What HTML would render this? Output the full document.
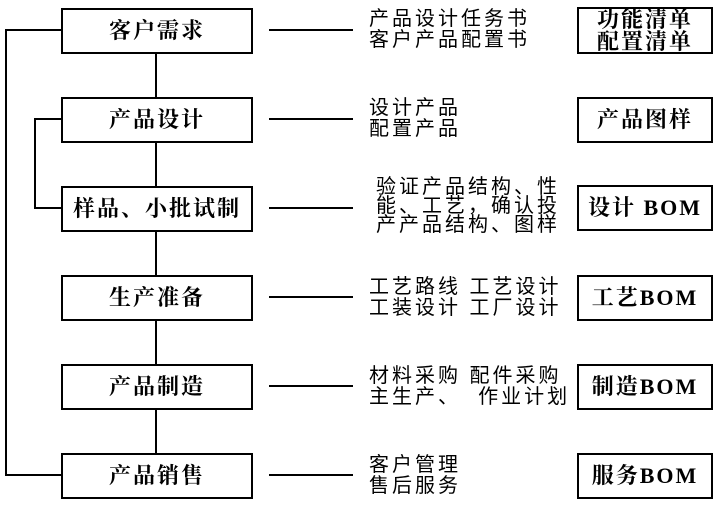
<!DOCTYPE html>
<html><head><meta charset="utf-8"><style>
body{margin:0;width:716px;height:505px;background:#fff;position:relative;overflow:hidden;font-family:"Liberation Serif","Noto Serif CJK SC",serif}
.b{position:absolute;border:2px solid #000;box-sizing:border-box;display:flex;align-items:center;justify-content:center;font-weight:bold;font-size:22px;letter-spacing:2px;line-height:22px;text-align:center}
.l{position:absolute;background:#000}
.t{position:absolute;font-family:"Liberation Sans","Noto Sans CJK SC",sans-serif;font-size:20px;letter-spacing:3px;line-height:21px;white-space:pre}
</style></head><body>
<div class="l" style="left:5px;top:29px;width:2px;height:447px"></div>
<div class="l" style="left:5px;top:29px;width:57px;height:2px"></div>
<div class="l" style="left:5px;top:474px;width:57px;height:2px"></div>
<div class="l" style="left:34px;top:118px;width:2px;height:91px"></div>
<div class="l" style="left:34px;top:118px;width:28px;height:2px"></div>
<div class="l" style="left:34px;top:207px;width:28px;height:2px"></div>
<div class="l" style="left:155px;top:50px;width:2px;height:410px"></div>

<div class="b" style="left:61px;top:8px;width:192px;height:46px;background:#fff">客户需求</div>
<div class="b" style="left:61px;top:97px;width:192px;height:46px;background:#fff">产品设计</div>
<div class="b" style="left:61px;top:186px;width:192px;height:46px;background:#fff">样品、小批试制</div>
<div class="b" style="left:61px;top:275px;width:192px;height:46px;background:#fff">生产准备</div>
<div class="b" style="left:61px;top:364px;width:192px;height:46px;background:#fff">产品制造</div>
<div class="b" style="left:61px;top:453px;width:192px;height:46px;background:#fff">产品销售</div>

<div class="l" style="left:269px;top:29px;width:84px;height:2px"></div>
<div class="l" style="left:269px;top:118px;width:84px;height:2px"></div>
<div class="l" style="left:269px;top:207px;width:84px;height:2px"></div>
<div class="l" style="left:269px;top:296px;width:84px;height:2px"></div>
<div class="l" style="left:269px;top:385px;width:84px;height:2px"></div>
<div class="l" style="left:269px;top:474px;width:84px;height:2px"></div>

<div class="t" style="left:369px;top:9px">产品设计任务书
客户产品配置书</div>
<div class="t" style="left:369px;top:98px">设计产品
配置产品</div>
<div class="t" style="left:376px;top:178px;line-height:19px">验证产品结构、性
能、工艺，确认投
产产品结构、图样</div>
<div class="t" style="left:369px;top:277px">工艺路线 工艺设计
工装设计 工厂设计</div>
<div class="t" style="left:369px;top:366px">材料采购 配件采购
主生产、  作业计划</div>
<div class="t" style="left:369px;top:455px">客户管理
售后服务</div>

<div class="b" style="left:577px;top:7px;width:136px;height:47px">功能清单<br>配置清单</div>
<div class="b" style="left:577px;top:97px;width:136px;height:46px">产品图样</div>
<div class="b" style="left:577px;top:185px;width:136px;height:46px">设计 BOM</div>
<div class="b" style="left:577px;top:275px;width:136px;height:46px">工艺BOM</div>
<div class="b" style="left:577px;top:364px;width:136px;height:46px">制造BOM</div>
<div class="b" style="left:577px;top:453px;width:136px;height:46px">服务BOM</div>
</body></html>
